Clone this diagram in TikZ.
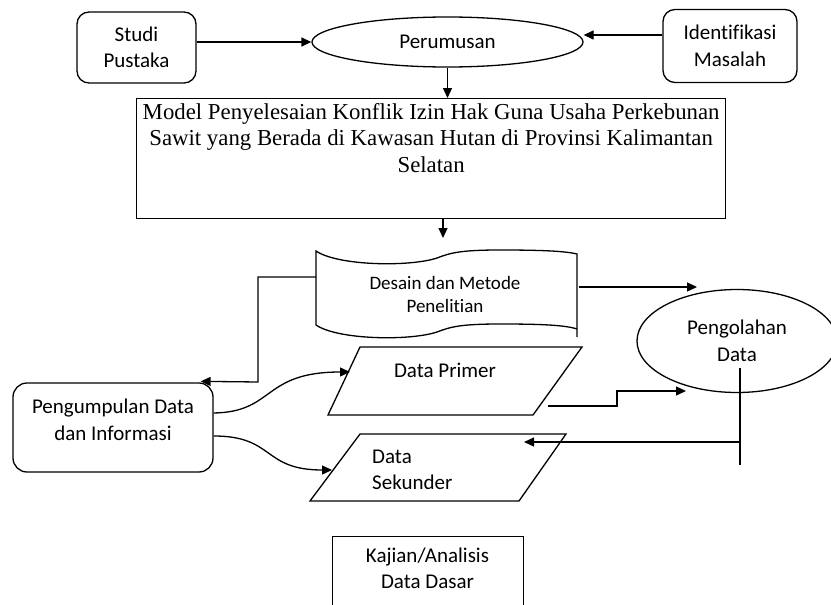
\documentclass[tikz,border=0pt]{standalone}
\usepackage{fontspec}
\setmainfont[Ligatures=NoCommon]{Carlito}
\newfontfamily\modelfont{Liberation Serif}
\usetikzlibrary{arrows.meta,shapes.geometric}

\tikzset{
  flowline/.style={line width=1.3pt},
  arr/.style={flowline, -{Triangle[length=10pt,width=9pt]}},
  boxtext/.style={align=center, font=\fontsize{21}{26.5}\selectfont, inner sep=0pt},
  roundbox/.style={draw, flowline, rounded corners=12pt, boxtext},
}

\begin{document}
\begin{tikzpicture}[x=1pt, y=-1pt]
    \useasboundingbox (0,0) rectangle (831,605);

    % Top row: sources and formulation
    \node[roundbox, minimum width=119pt, minimum height=71pt] (studi) at (136.5,47.5) {Studi\\Pustaka};
    \node[draw, flowline, ellipse, boxtext, minimum width=271pt, minimum height=50pt] (perumusan) at (447.5,42) {Perumusan};
    \node[roundbox, minimum width=134pt, minimum height=73pt] (identifikasi) at (730,46) {Identifikasi\\Masalah};

    \draw[arr] (studi.east |- perumusan.west) -- (perumusan.west);
    \draw[arr] ([yshift=11pt]identifikasi.west) -- ([yshift=11pt]identifikasi.west -| perumusan.east);

    % Model box with serif title text
    \node[draw, flowline, minimum width=589pt, minimum height=120pt, anchor=north west, inner sep=0pt] (model) at (136,98) {};
    \node[anchor=north, align=center, inner sep=0pt, font=\modelfont\fontsize{22.8}{26.5}\selectfont] (modeltext) at ([yshift=-5pt]model.north) {%
Model Penyelesaian Konflik Izin Hak Guna Usaha Perkebunan\\
Sawit yang Berada di Kawasan Hutan di Provinsi Kalimantan\\
Selatan};

    \draw[arr] (perumusan.south) -- (perumusan.south |- model.north);

    % Desain dan Metode (tape shape)
    \draw[flowline] (316,325) -- (316,251)
      .. controls (338,266) and (410,267) .. (437,258)
      .. controls (450,253) and (460,250) .. (500,250)
      .. controls (540,250) and (565,251) .. (577,254) -- (577,337);
    \draw[flowline] (316,325)
      .. controls (338,340) and (410,341) .. (437,332)
      .. controls (450,327) and (460,324) .. (500,324)
      .. controls (540,324) and (565,325) .. (577,329);
    \node[boxtext, font=\fontsize{19}{23}\selectfont] (desain) at (445,294) {Desain dan Metode\\Penelitian};
    \coordinate (desainin) at (443,238);
    \coordinate (desaineast) at (579,287);
    \coordinate (desainwest) at (316,277);

    \draw[arr] (model.south -| desainin) -- (desainin);

    % Pengolahan Data
    \node[draw, flowline, ellipse, boxtext, minimum width=200pt, minimum height=103pt] (pengolahan) at (737,341) {Pengolahan\\Data};
    \coordinate (pengolahanin) at (697,287);
    \draw[arr] (desaineast) -- (pengolahanin);

    % Pengumpulan Data dan Informasi
    \node[draw, flowline, rounded corners=14pt, minimum width=200pt, minimum height=89pt, inner sep=0pt] (pengumpulan) at (113,427.5) {};
    \node[boxtext] (pengumpulantext) at (113,420) {Pengumpulan Data\\dan Informasi};
    \draw[arr] (desainwest) -| (258,382) -- ([xshift=-13pt,yshift=1pt]pengumpulan.north east);

    % Data Primer and Data Sekunder
    \draw[flowline] (360,347) -- (582,347) -- (533,415) -- (328,415) -- cycle;
    \node[boxtext] (primer) at (445,370) {Data Primer};
    \coordinate (primerin) at (350,372);
    \coordinate (primerout) at (548,406);

    \draw[flowline] (360,434) -- (566,434) -- (519,501) -- (310,501) -- cycle;
    \node[boxtext, align=left, anchor=west] (sekunder) at (372,470) {Data\\Sekunder};
    \coordinate (sekunderin) at (332,470);
    \coordinate (sekunderback) at (524,442);

    \draw[arr] ([yshift=14.5pt]pengumpulan.east) .. controls (275,412) and (262,372) .. (primerin);
    \draw[arr] ([yshift=-8.5pt]pengumpulan.east) .. controls (275,436) and (262,470) .. (sekunderin);

    % Links around Pengolahan Data
    \coordinate (pengolahanjoin) at (686,391);
    \draw[arr] (primerout) -- ++(69,0) |- (pengolahanjoin);
    \coordinate (feedtop) at (740,368);
    \coordinate (feedbottom) at (740,465);
    \draw[flowline] (feedtop) -- (feedbottom);
    \draw[arr] (feedtop |- sekunderback) -- (sekunderback);

    % Kajian/Analisis Data Dasar
    \node[draw, flowline, minimum width=191pt, minimum height=100pt, anchor=north west, inner sep=0pt] (kajian) at (332,536) {};
    \node[boxtext] (kajiantext) at (427.5,568.5) {Kajian/Analisis\\Data Dasar};
\end{tikzpicture}
\end{document}
